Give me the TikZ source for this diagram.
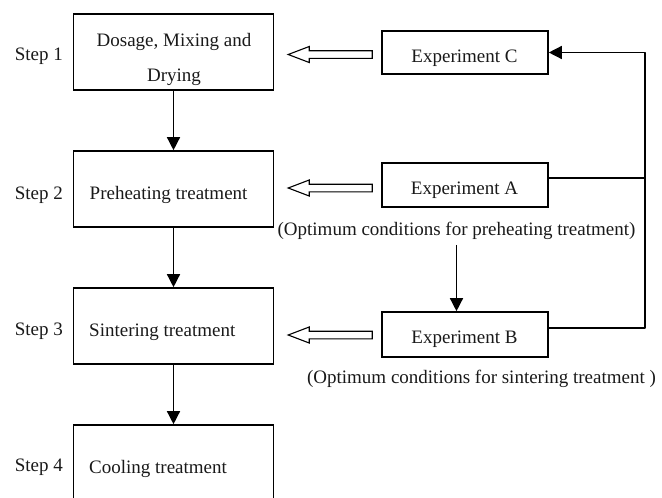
\documentclass[tikz,border=0pt]{standalone}
\usepackage{fontspec}
\setmainfont{Liberation Serif}
\usetikzlibrary{arrows.meta,calc}
\begin{document}
\begin{tikzpicture}[x=1pt,y=-1pt,
  every node/.style={font=\fontsize{19}{35}\selectfont, text=black!90},
  stepbox/.style={draw, line width=1.6pt, minimum width=200pt, minimum height=76pt},
  expbox/.style={draw, line width=1.6pt, minimum width=166pt, minimum height=44pt},
  boxtext/.style={inner sep=0pt, align=center},
  steplabel/.style={anchor=east, inner sep=0pt},
  conn/.style={line width=1.4pt, line join=round},
  tipconn/.style={conn, -{Triangle[length=13pt,width=13pt]}},
  hollow/.pic={\draw[line width=1.1pt, line join=miter] (0,0) -- (21,-8) -- (21,-3.8) -- (84,-3.8) -- (84,3.8) -- (21,3.8) -- (21,8) -- cycle;}
]
\useasboundingbox (0,0) rectangle (662,498);
\clip (0,0) rectangle (662,498);

% left boxes
\node[stepbox] (b1) at (173.5,52) {};
\node[stepbox] (b2) at (173.5,189) {};
\node[stepbox] (b3) at (173.5,326) {};
\node[stepbox, minimum height=90pt] (b4) at (173.5,470) {};
\node[boxtext] (t1) at (174,59) {Dosage, Mixing and\\Drying};
\node[boxtext, anchor=west] (t2) at (89.5,195) {Preheating treatment};
\node[boxtext, anchor=west] (t3) at (89,332) {Sintering treatment};
\node[boxtext, anchor=west] (t4) at (89,469) {Cooling treatment};

% step labels
\node[steplabel] (s1) at (63,56) {Step 1};
\node[steplabel] (s2) at (63,195) {Step 2};
\node[steplabel] (s3) at (63,331) {Step 3};
\node[steplabel] (s4) at (63,467) {Step 4};

% experiment boxes
\node[expbox, minimum height=43pt] (ec) at (465,52.5) {};
\node[expbox] (ea) at (465,185) {};
\node[expbox, minimum height=45pt] (eb) at (465,334.5) {};
\node[boxtext] (tc) at (464.5,58) {Experiment C};
\node[boxtext] (ta) at (464.5,190) {Experiment A};
\node[boxtext] (tb) at (464.5,339) {Experiment B};

% captions
\node[inner sep=2pt] (ca) at (456.5,231) {(Optimum conditions for preheating treatment)};
\node[inner sep=2pt] (cb) at (481.5,379) {(Optimum conditions for sintering treatment )};

% vertical flow arrows
\draw[tipconn] (b1.south) -- (b2.north);
\draw[tipconn] (b2.south) -- (b3.north);
\draw[tipconn] (b3.south) -- (b4.north);

% caption A to experiment B
\draw[tipconn] ([yshift=-3pt]ca.south) -- (ca.south |- eb.north);

% feedback loop on the right
\coordinate (rx) at (645,0);
\coordinate (ea-out) at ([yshift=7pt]ea.east);
\draw[tipconn] ([yshift=6.5pt]eb.east) -| (rx |- ec.east) -- (ec.east);
\draw[conn] (ea-out) -- (rx |- ea-out);

% hollow arrows
\path ([xshift=-9pt,yshift=-2pt]ec.west) coordinate (hc);
\path ([xshift=-9pt,yshift=-3pt]ea.west) coordinate (ha);
\path ([xshift=-9pt,yshift=-0.5pt]eb.west) coordinate (hb);
\pic at ($(hc)+(-84,0)$) {hollow};
\pic at ($(ha)+(-84,0)$) {hollow};
\pic at ($(hb)+(-84,0)$) {hollow};
\end{tikzpicture}
\end{document}
